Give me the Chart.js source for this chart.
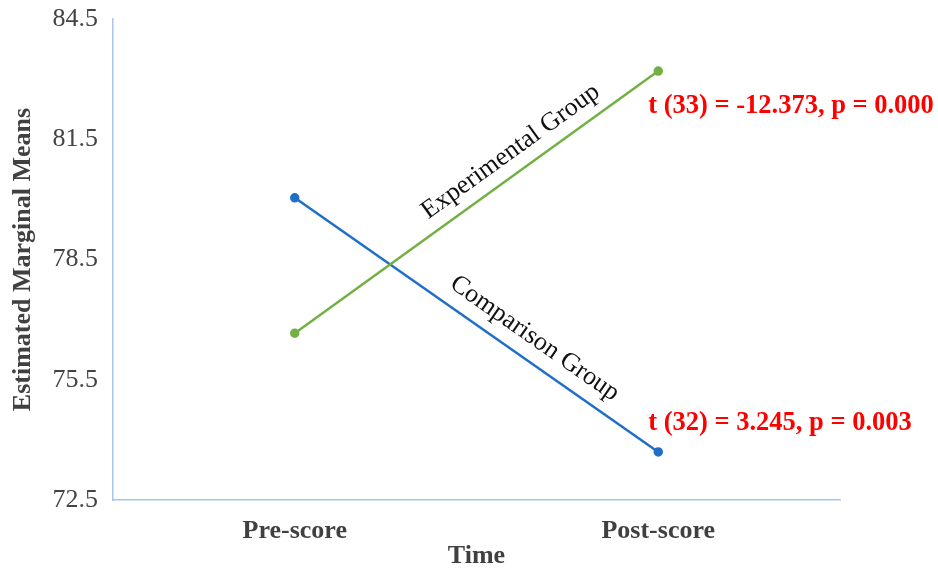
<!DOCTYPE html>
<html lang="en">
<head>
<meta charset="UTF-8">
<title>Estimated Marginal Means</title>
<script src="https://cdn.jsdelivr.net/npm/chart.js"></script>
<style>
    html, body { margin: 0; padding: 0; background: #fff; }
    #wrap { width: 938px; height: 569px; }
</style>
</head>
<body>
<div id="wrap"><canvas id="emmChart"></canvas></div>
<script>
    // data
    const timeLabels = ['Pre-score', 'Post-score'];
    const experimentalMeans = [76.66, 83.20];
    const comparisonMeans = [80.04, 73.70];
    const yTicks = [72.5, 75.5, 78.5, 81.5, 84.5];
    const lineNames = ['Experimental Group', 'Comparison Group'];
    const statLabels = ['t (33) = -12.373, p = 0.000', 't (32) = 3.245, p = 0.003'];

    const serif = "'Liberation Serif', 'Times New Roman', serif";
    const axisBlue = '#a6c6ec';

    // group names along the lines + red t-test notes next to the post-score points
    const notesPlugin = {
        id: 'notes',
        afterDatasetsDraw(chart) {
            const ctx = chart.ctx;
            const x = chart.scales.x, y = chart.scales.y;
            const series = [experimentalMeans, comparisonMeans];
            const along = [0.628, 0.625];
            const offs = [-21, -22];

            ctx.save();
            series.forEach((vals, i) => {
                const x0 = x.getPixelForValue(0), y0 = y.getPixelForValue(vals[0]);
                const x1 = x.getPixelForValue(1), y1 = y.getPixelForValue(vals[1]);
                const ang = Math.atan2(y1 - y0, x1 - x0);
                const cx = x0 + (x1 - x0) * along[i];
                const cy = y0 + (y1 - y0) * along[i];
                ctx.save();
                ctx.translate(cx, cy);
                ctx.rotate(ang);
                ctx.font = '26px ' + serif;
                ctx.fillStyle = '#111';
                ctx.textAlign = 'center';
                ctx.textBaseline = 'middle';
                ctx.fillText(lineNames[i], 0, offs[i]);
                ctx.restore();

                ctx.font = 'bold 26.5px ' + serif;
                ctx.fillStyle = '#ff0000';
                ctx.textAlign = 'left';
                ctx.textBaseline = 'middle';
                const ty = i === 0 ? y1 + 35 : y1 - 29;
                ctx.fillText(statLabels[i], x1 - 10, ty);
            });
            ctx.restore();
        }
    };

    new Chart(document.getElementById('emmChart'), {
        type: 'line',
        data: {
            labels: timeLabels,
            datasets: [{
                label: lineNames[0],
                data: experimentalMeans,
                borderColor: '#72b043',
                backgroundColor: '#72b043',
                borderWidth: 2.5,
                pointRadius: 3.5,
                pointHoverRadius: 3.5,
                tension: 0
            }, {
                label: lineNames[1],
                data: comparisonMeans,
                borderColor: '#1f6fc6',
                backgroundColor: '#1f6fc6',
                borderWidth: 2.5,
                pointRadius: 3.5,
                pointHoverRadius: 3.5,
                tension: 0
            }]
        },
        options: {
            responsive: true,
            maintainAspectRatio: false,
            animation: false,
            layout: { padding: { top: 19, right: 98, left: 10, bottom: 0 } },
            plugins: {
                legend: { display: false },
                tooltip: { enabled: false }
            },
            scales: {
                x: {
                    offset: true,
                    grid: { display: false, drawTicks: false },
                    border: { color: axisBlue, width: 1.5 },
                    ticks: {
                        color: '#404040',
                        padding: 18,
                        font: { family: serif, size: 26, weight: 'bold', lineHeight: 1 }
                    },
                    title: {
                        display: true,
                        text: 'Time',
                        color: '#404040',
                        padding: { top: 0, bottom: 0 },
                        font: { family: serif, size: 26, weight: 'bold', lineHeight: 1 }
                    },
                    afterFit(scale) { scale.height = 69; }
                },
                y: {
                    min: 72.5,
                    max: 84.5,
                    afterBuildTicks(scale) {
                        scale.ticks = yTicks.map(v => ({ value: v }));
                    },
                    grid: { display: false, drawTicks: false },
                    border: { color: axisBlue, width: 1.5 },
                    ticks: {
                        color: '#444',
                        padding: 15,
                        font: { family: serif, size: 26, lineHeight: 1 },
                        callback: v => v.toFixed(1)
                    },
                    title: {
                        display: true,
                        text: 'Estimated Marginal Means',
                        color: '#404040',
                        padding: { top: 0, bottom: 4 },
                        font: { family: serif, size: 26, weight: 'bold', lineHeight: 1 }
                    },
                    afterFit(scale) {
                        scale.width = 103;
                        scale.paddingTop = 0;
                        scale.paddingBottom = 0;
                    }
                }
            }
        },
        plugins: [notesPlugin]
    });
</script>
</body>
</html>
